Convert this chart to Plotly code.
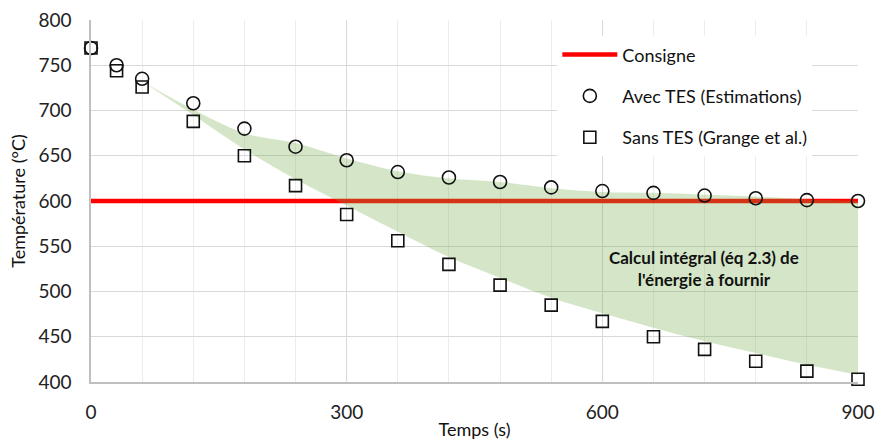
import plotly.graph_objects as go

# Temps (s)
temps = [0, 30, 60, 120, 180, 240, 300, 360, 420, 480, 540, 600, 660, 720, 780, 840, 900]
avec_tes = [769, 750, 735, 708, 680, 660, 645, 632, 626, 621, 615, 611, 609, 606, 603, 601, 600]
sans_tes = [769, 744, 726, 688, 650, 617, 585, 556, 530, 507, 485, 467, 450, 436, 423, 412, 403]

consigne_t = [0, 900]
consigne_v = [600, 600]

zone_t = [60, 120, 180, 240, 300, 360, 420, 480, 540, 600, 660, 720, 780, 840, 900]
zone_haut = [732, 701, 675, 664, 647, 633, 625, 621, 614, 610, 609, 607, 605, 602, 600]
zone_bas = [732, 695, 657, 624, 595, 566, 538, 515, 493, 476, 460, 445, 432, 419, 408]

x_ticks = [0, 300, 600, 900]
y_ticks = [400, 450, 500, 550, 600, 650, 700, 750, 800]

FONT = "Lato"

fig = go.Figure()

fig.add_trace(go.Scatter(
    x=consigne_t, y=consigne_v, mode="lines", name="Consigne",
    line=dict(color="#FF0000", width=4.5), legendgroup="a",
))
fig.add_trace(go.Scatter(
    x=zone_t, y=zone_bas, mode="lines", line=dict(width=0, shape="spline"),
    showlegend=False, hoverinfo="skip",
))
fig.add_trace(go.Scatter(
    x=zone_t, y=zone_haut, mode="lines", line=dict(width=0, shape="spline"),
    fill="tonexty", fillcolor="rgba(112,173,71,0.3)",
    showlegend=False, hoverinfo="skip",
))
fig.add_trace(go.Scatter(
    x=temps, y=avec_tes, mode="markers", name="Avec TES (Estimations)",
    marker=dict(symbol="circle-open", size=13, color="#111111", line=dict(width=1.6, color="#111111")),
    legendgroup="b", cliponaxis=False,
))
fig.add_trace(go.Scatter(
    x=temps, y=sans_tes, mode="markers", name="Sans TES (Grange et al.)",
    marker=dict(symbol="square-open", size=12, color="#111111", line=dict(width=1.6, color="#111111")),
    legendgroup="c", cliponaxis=False,
))

fig.add_annotation(
    x=719, y=525, xref="x", yref="y",
    text="<b>Calcul intégral (éq 2.3) de<br>l'énergie à fournir</b>",
    showarrow=False, font=dict(family=FONT, size=17, color="#111111"), align="center",
)

fig.update_layout(
    width=877, height=442,
    margin=dict(l=91, r=19, t=20, b=60, autoexpand=False),
    paper_bgcolor="white", plot_bgcolor="white",
    font=dict(family=FONT, size=19, color="#222222"),
    showlegend=True,
    legend=dict(
        x=0.608, y=0.955, xanchor="left", yanchor="top",
        bgcolor="white", itemwidth=55, tracegroupgap=15,
        traceorder="grouped",
        font=dict(family=FONT, size=18, color="#111111"),
    ),
    xaxis=dict(
        range=[0, 900], tickvals=x_ticks, ticktext=[str(v) for v in x_ticks],
        showgrid=True, gridcolor="#d9d9d9", gridwidth=1.2,
        minor=dict(dtick=60, tick0=0, showgrid=True, gridcolor="#ececec", gridwidth=1),
        showline=True, linecolor="#bfbfbf", linewidth=1.5,
        ticks="outside", ticklen=12, tickcolor="rgba(0,0,0,0)",
        zeroline=False, automargin=False,
        tickfont=dict(family=FONT, size=19, color="#222222"),
        title=dict(text="Temps (s)", font=dict(family=FONT, size=18, color="#111111"), standoff=2),
    ),
    yaxis=dict(
        range=[400, 800], tickvals=y_ticks,
        showgrid=True, gridcolor="#d9d9d9", gridwidth=1.2,
        showline=True, linecolor="#bfbfbf", linewidth=1.5,
        ticks="outside", ticklen=14, tickcolor="rgba(0,0,0,0)",
        zeroline=False, automargin=False,
        tickfont=dict(family=FONT, size=19, color="#222222"),
        title=dict(text="Température (°C)", font=dict(family=FONT, size=18, color="#111111"), standoff=8),
    ),
)

fig.write_html(
    "out.html",
    config={"displayModeBar": False},
    post_script="document.body.style.margin='0';document.body.style.overflow='hidden';",
)
